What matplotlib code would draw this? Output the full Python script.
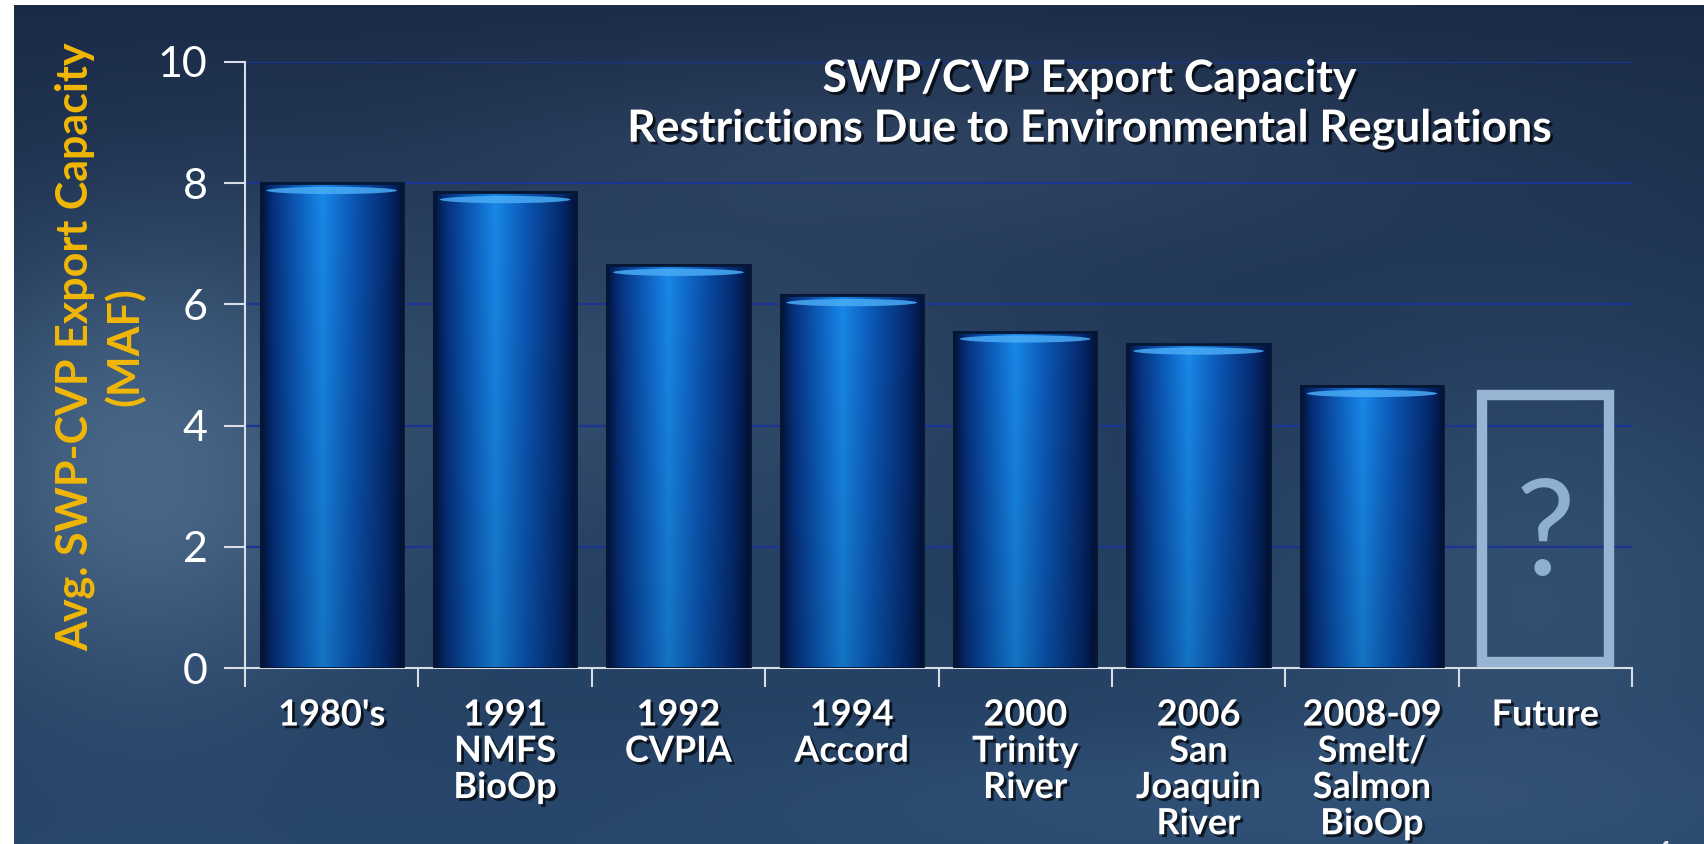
import numpy as np
import matplotlib
matplotlib.use("Agg")
import matplotlib.pyplot as plt
import matplotlib.patheffects as pe
from matplotlib.colors import to_rgb
from matplotlib.patches import Rectangle, Ellipse

# chart data
categories = ["1980's", "1991\nNMFS\nBioOp", "1992\nCVPIA", "1994\nAccord",
              "2000\nTrinity\nRiver", "2006\nSan\nJoaquin\nRiver",
              "2008-09\nSmelt/\nSalmon\nBioOp", "Future"]
capacity = [8.0, 7.85, 6.65, 6.15, 5.55, 5.35, 4.65]   # MAF, last one is "Future" = unknown
future_height = 4.5
yticks = [0, 2, 4, 6, 8, 10]

plt.rcParams['font.family'] = ['Lato', 'DejaVu Sans']

W, H = 1704, 844
fig = plt.figure(figsize=(W / 100, H / 100), dpi=100, facecolor='white')

# slide background (dark blue with soft lighter patches)
bg = fig.add_axes([14 / W, 0, 1 - 14 / W, 1 - 5 / H])
yy, xx = np.mgrid[0:1:300j, 0:1:600j]
top_c = np.array(to_rgb('#1a2b47'))
bot_c = np.array(to_rgb('#27466b'))
img = top_c + (bot_c - top_c) * yy[..., None]
def blob(cx, cy, sx, sy, color, amt):
    g = np.exp(-(((xx - cx) / sx) ** 2 + ((yy - cy) / sy) ** 2))[..., None] * amt
    return g, np.array(to_rgb(color))
for cx, cy, sx, sy, col, amt in [(0.08, 0.55, 0.12, 0.25, '#4f6e8e', 0.9),
                                 (0.35, 0.45, 0.25, 0.2, '#3d5878', 0.6),
                                 (0.55, 0.18, 0.3, 0.12, '#3a5070', 0.55),
                                 (0.9, 0.7, 0.15, 0.3, '#3c5a7c', 0.6),
                                 (0.75, 0.95, 0.3, 0.08, '#3a5a80', 0.5)]:
    g, c = blob(cx, cy, sx, sy, col, amt)
    img = img * (1 - g) + c * g
bg.imshow(np.clip(img, 0, 1), extent=[0, 1, 0, 1], aspect='auto')
bg.set_xlim(0, 1)
bg.set_ylim(0, 1)
bg.axis('off')

ax = fig.add_axes([245 / W, 1 - 668 / H, (1632 - 245) / W, (668 - 62) / H])
ax.set_facecolor('none')
x = np.arange(len(categories))

# gridlines behind bars
for t in yticks[1:]:
    ax.axhline(t, color='#1b3592', lw=1.6, zorder=1)

# cylinder-like bars
bw = 0.82
prof_pos = [0, 0.08, 0.25, 0.43, 0.65, 0.9, 1]
prof_col = ['#02143c', '#062f7a', '#0c5ab8', '#1888e8', '#0b56b4', '#05286c', '#021238']
prof = np.array([np.interp(np.linspace(0, 1, 200), prof_pos, [to_rgb(c)[k] for c in prof_col])
                 for k in range(3)]).T
vert = np.linspace(1.0, 0.85, 100)[:, None, None]
bar_img = np.clip(prof[None, :, :] * vert, 0, 1)
bars = ax.bar(x[:len(capacity)], capacity, width=bw, color='#0b56b4',
              edgecolor='#061633', lw=1.5, zorder=2)
for b in bars:
    x0, h = b.get_x(), b.get_height()
    ax.imshow(bar_img, extent=[x0, x0 + bw, 0, h], aspect='auto', zorder=3)
    ax.add_patch(Ellipse((x0 + bw * 0.5, h - 0.12), bw * 0.92, 0.12,
                         color='#49acf6', alpha=0.85, lw=0, zorder=4))
    ax.add_patch(Rectangle((x0, 0), bw, h, fill=False, edgecolor='#061633',
                           lw=2, zorder=4))

# "Future" placeholder box
fw = 0.73
ax.add_patch(Rectangle((x[-1] - fw / 2, 0.1), fw, future_height - 0.1, fill=False,
                       edgecolor='#97b5d3', lw=7.5, zorder=3))
ax.text(x[-1], 2.15, '?', color='#8fb0d0', fontsize=96, ha='center', va='center',
        zorder=3)

ax.set_xlim(-0.5, len(categories) - 0.5)
ax.set_ylim(0, 10)
ax.set_yticks(yticks)
ax.set_xticks(np.arange(len(categories) + 1) - 0.5, minor=False)
ax.set_xticklabels([])
ax.set_xticks(x, minor=True)
ax.set_xticklabels(categories, minor=True, fontsize=26, fontweight='bold',
                   color='white', linespacing=1.12)
ax.tick_params(axis='x', which='major', length=14, width=1.5, color='#d8dde5')
ax.tick_params(axis='x', which='minor', length=0, pad=22)
ax.tick_params(axis='y', length=15, width=1.5, color='#d8dde5', labelcolor='white',
               labelsize=31, pad=12)
for lbl in ax.get_xticklabels(minor=True):
    lbl.set_va('top')
    lbl.set_path_effects([pe.withSimplePatchShadow(offset=(2, -2),
                                                   shadow_rgbFace='black', alpha=0.7)])
for s in ['top', 'right']:
    ax.spines[s].set_visible(False)
for s in ['left', 'bottom']:
    ax.spines[s].set_color('#d8dde5')
    ax.spines[s].set_linewidth(1.5)

# title and axis label
fig.text(1090 / W, 1 - 104 / H,
         'SWP/CVP Export Capacity\nRestrictions Due to Environmental Regulations',
         ha='center', va='center', fontsize=32, fontweight='bold', color='white',
         linespacing=1.3,
         path_effects=[pe.withSimplePatchShadow(offset=(2, -2), shadow_rgbFace='black',
                                                alpha=0.7)])
fig.text(100 / W, 1 - 347 / H, 'Avg. SWP-CVP Export Capacity\n(MAF)', rotation=90,
         ha='center', va='center', multialignment='center', fontsize=31,
         fontweight='bold', color='#f2b705', linespacing=1.25)
fig.text(1650 / W, -0.03, '4', fontsize=28, color='#dfe4ea', va='baseline')

fig.savefig('out.png', dpi=100, facecolor='white')
